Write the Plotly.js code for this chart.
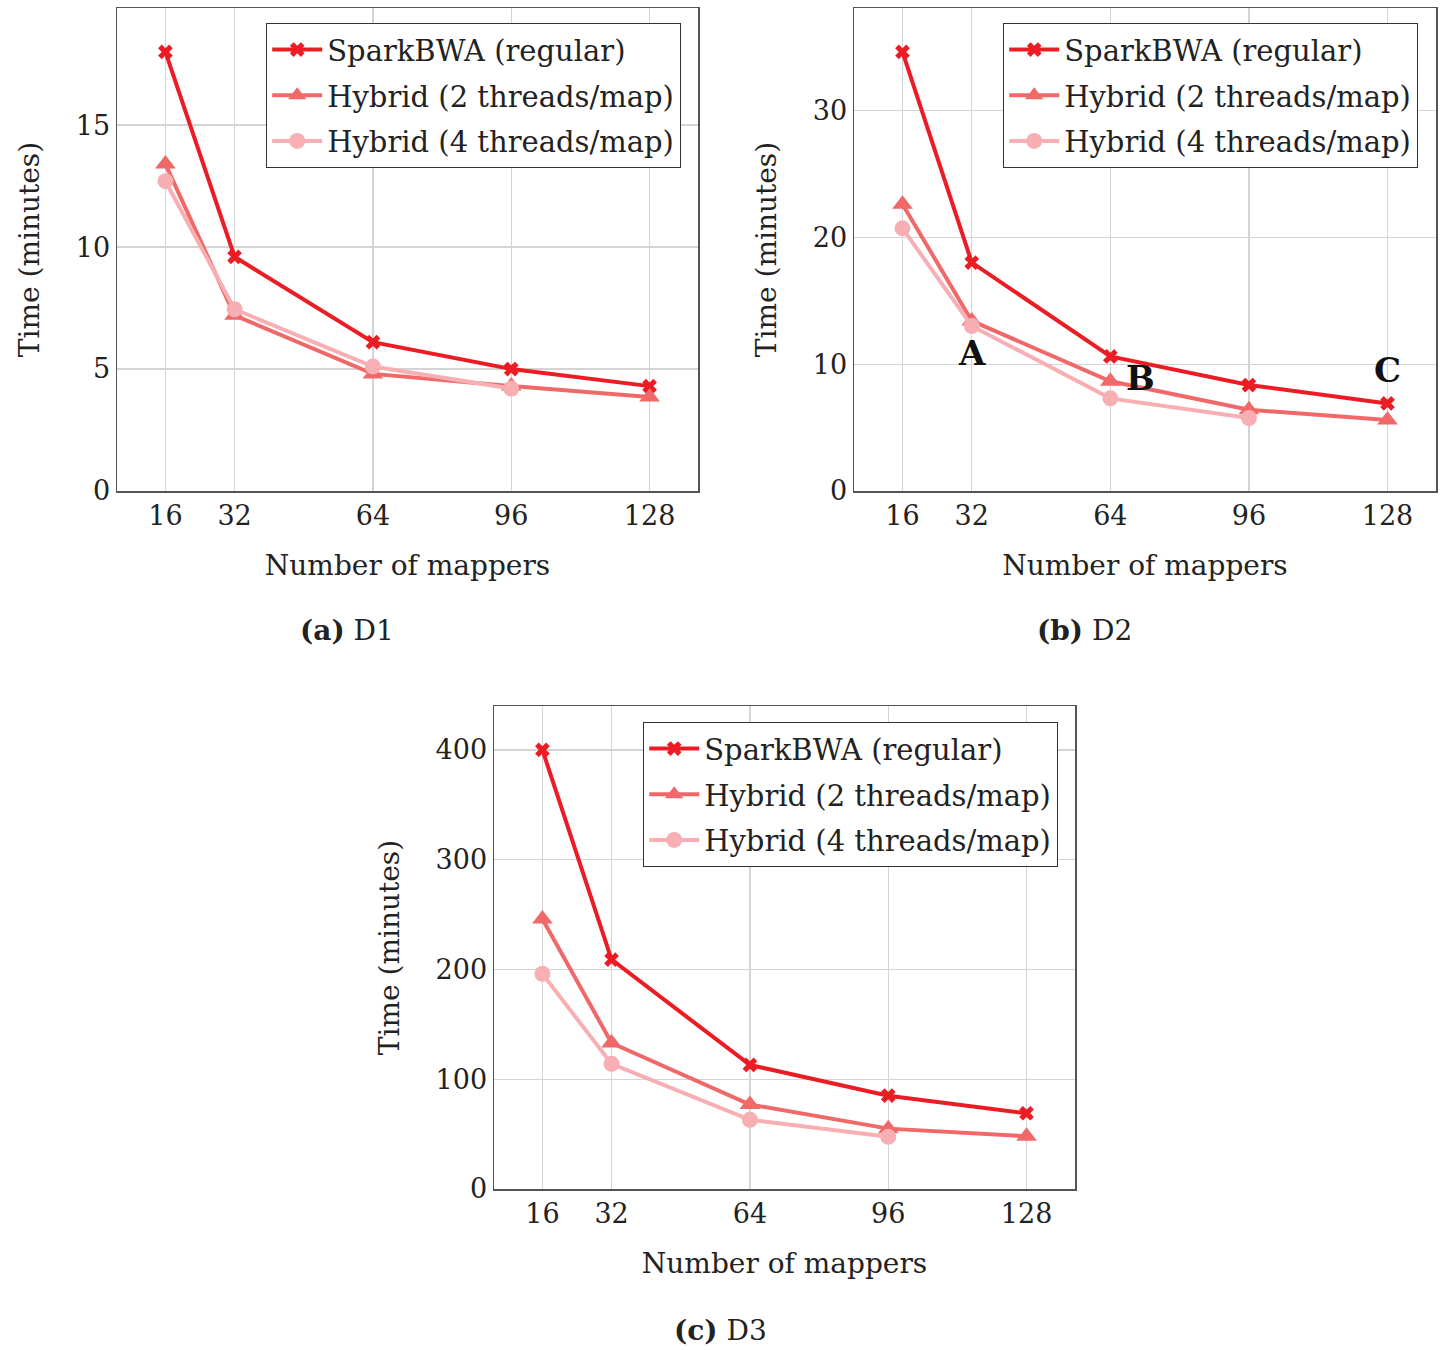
<!DOCTYPE html>
<html>
<head>
<meta charset="utf-8">
<script src="https://cdn.plot.ly/plotly-3.0.1.min.js"></script>
<style>html,body{margin:0;padding:0;background:#fff;}#chart{width:1442px;height:1350px;}</style>
</head>
<body>
<div id="chart"></div>
<script>
// ---- data ----
const mappers = [16, 32, 64, 96, 128];
const mappers4 = [16, 32, 64, 96];
const seriesNames = ["SparkBWA (regular)", "Hybrid (2 threads/map)", "Hybrid (4 threads/map)"];

const d1Spark = [18.0, 9.6, 6.1, 5.0, 4.3];
const d1Hyb2  = [13.4, 7.2, 4.8, 4.3, 3.85];
const d1Hyb4  = [12.7, 7.45, 5.1, 4.2];

const d2Spark = [34.6, 18.0, 10.6, 8.35, 6.9];
const d2Hyb2  = [22.6, 13.4, 8.65, 6.4, 5.6];
const d2Hyb4  = [20.7, 13.0, 7.3, 5.75];

const d3Spark = [400, 209, 113, 85, 69];
const d3Hyb2  = [246, 133, 77, 55, 48];
const d3Hyb4  = [196, 114, 63, 47.5];

const xTicks = [16, 32, 64, 96, 128];
const d1YTicks = [0, 5, 10, 15];
const d2YTicks = [0, 10, 20, 30];
const d3YTicks = [0, 100, 200, 300, 400];

const captions = ["<b>(a)</b> D1", "<b>(b)</b> D2", "<b>(c)</b> D3"];
const pointLabels = ["A", "B", "C"];
const pointLabelX = [32, 71, 128];
const pointLabelY = [10.9, 8.9, 9.5];

// ---- styles ----
const FONT = "DejaVu Serif, Liberation Serif, serif";
const colors = ["#ec1c24", "#f06868", "#f7afb3"];
const symbols = ["x", "triangle-up", "circle"];
const msizes = [13, 18, 16];

const datasets = [
  {x: [mappers, mappers, mappers4], y: [d1Spark, d1Hyb2, d1Hyb4]},
  {x: [mappers, mappers, mappers4], y: [d2Spark, d2Hyb2, d2Hyb4]},
  {x: [mappers, mappers, mappers4], y: [d3Spark, d3Hyb2, d3Hyb4]}
];

const traces = [];
datasets.forEach((ds, p) => {
  const ax = p === 0 ? "" : String(p + 1);
  const leg = p === 0 ? "legend" : "legend" + (p + 1);
  for (let s = 0; s < 3; s++) {
    traces.push({
      type: "scatter", mode: "lines+markers",
      x: ds.x[s], y: ds.y[s], name: seriesNames[s],
      xaxis: "x" + ax, yaxis: "y" + ax, legend: leg,
      legendgroup: "g" + p + "_" + s,
      line: {color: colors[s], width: 4},
      marker: {color: colors[s], symbol: symbols[s], size: msizes[s], line: {width: 0}},
      cliponaxis: false
    });
  }
});

const W = 1442, H = 1350;
const px = v => v / W, py = v => 1 - v / H;

function xAxis(domain, anchor) {
  return {
    domain: domain, anchor: anchor, range: [4.8, 139.2],
    tickmode: "array", tickvals: xTicks, ticktext: xTicks.map(String),
    showgrid: true, gridcolor: "#d4d4d4", gridwidth: 1.2,
    showline: true, mirror: true, linecolor: "#555", linewidth: 1.5,
    zeroline: false, ticks: "", ticklen: 0,
    tickfont: {family: FONT, size: 27, color: "#222"},
    title: {text: "Number of mappers", font: {family: FONT, size: 28, color: "#222"}, standoff: 25}
  };
}
function yAxis(domain, anchor, range, ticks) {
  return {
    domain: domain, anchor: anchor, range: range,
    tickmode: "array", tickvals: ticks, ticktext: ticks.map(String),
    showgrid: true, gridcolor: "#d4d4d4", gridwidth: 1.2,
    showline: true, mirror: true, linecolor: "#555", linewidth: 1.5,
    zeroline: false, ticks: "", ticklen: 0,
    tickfont: {family: FONT, size: 27, color: "#222"},
    title: {text: "Time (minutes)", font: {family: FONT, size: 28, color: "#222"}, standoff: 28}
  };
}
function legend(xr, yt) {
  return {
    x: px(xr), y: py(yt), xanchor: "right", yanchor: "top",
    bgcolor: "#fff", bordercolor: "#333", borderwidth: 1.2,
    font: {family: FONT, size: 29, color: "#222"},
    tracegroupgap: 5, itemwidth: 50
  };
}
function caption(text, x, y) {
  return {xref: "paper", yref: "paper", x: px(x), y: py(y), xanchor: "center", yanchor: "middle",
    text: text, showarrow: false, font: {family: FONT, size: 28, color: "#222"}};
}

const layout = {
  width: W, height: H,
  margin: {l: 0, r: 0, t: 0, b: 0},
  paper_bgcolor: "#fff", plot_bgcolor: "#fff",
  showlegend: true,
  xaxis: xAxis([px(117), px(698)], "y"),
  yaxis: yAxis([py(491), py(8)], "x", [0, 19.8], d1YTicks),
  xaxis2: xAxis([px(854), px(1436)], "y2"),
  yaxis2: yAxis([py(491), py(8)], "x2", [0, 38.06], d2YTicks),
  xaxis3: xAxis([px(494), px(1075)], "y3"),
  yaxis3: yAxis([py(1189), py(706)], "x3", [0, 440], d3YTicks),
  legend: legend(681, 23),
  legend2: legend(1418, 23),
  legend3: legend(1058, 722),
  annotations: [
    caption(captions[0], 347, 630),
    caption(captions[1], 1084, 630),
    caption(captions[2], 720, 1330)
  ].concat(pointLabels.map((t, i) => ({
    xref: "x2", yref: "y2", x: pointLabelX[i], y: pointLabelY[i], text: "<b>" + t + "</b>",
    xanchor: "center", yanchor: "middle",
    showarrow: false, font: {family: FONT, size: 34, color: "#111"}
  })))
};

Plotly.newPlot("chart", traces, layout, {staticPlot: true, displayModeBar: false});
</script>
</body>
</html>
